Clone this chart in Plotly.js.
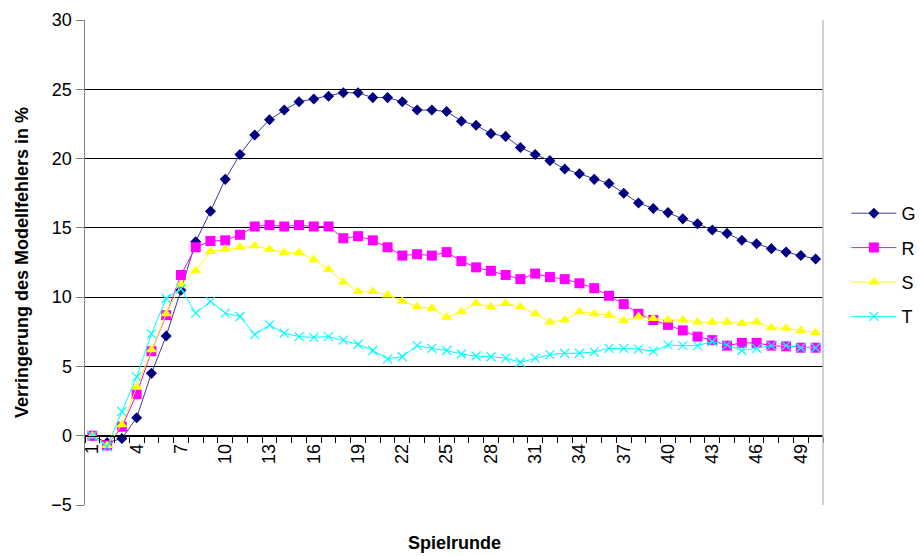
<!DOCTYPE html>
<html>
<head>
<meta charset="utf-8">
<script src="https://cdn.plot.ly/plotly-3.0.1.min.js"></script>
<style>html,body{margin:0;padding:0;background:#fff;}#chart{width:920px;height:556px;}</style>
</head>
<body>
<div id="chart"></div>
<script>
const rounds = Array.from({length: 50}, (_, i) => i + 1);
const tickRounds = [1,4,7,10,13,16,19,22,25,28,31,34,37,40,43,46,49];

const seriesG = [0,-0.5,-0.2,1.3,4.5,7.2,10.5,14.0,16.2,18.5,20.3,21.7,22.8,23.5,24.1,24.3,24.5,24.75,24.75,24.4,
  24.4,24.1,23.5,23.5,23.4,22.7,22.4,21.8,21.6,20.8,20.3,19.85,19.25,18.9,18.5,18.2,17.5,16.8,16.4,16.1,
  15.65,15.3,14.85,14.6,14.1,13.85,13.5,13.25,13.0,12.75];
const seriesR = [0,-0.7,0.65,3.0,6.1,8.7,11.6,13.6,14.05,14.1,14.5,15.1,15.2,15.1,15.2,15.1,15.1,14.25,14.4,14.1,
  13.6,13.0,13.1,13.0,13.25,12.6,12.15,11.9,11.6,11.3,11.7,11.45,11.3,11.0,10.65,10.1,9.5,8.8,8.35,8.0,
  7.6,7.15,6.9,6.5,6.7,6.7,6.5,6.45,6.35,6.35];
const seriesS = [0,-0.7,0.8,3.5,6.2,8.8,10.9,11.9,13.3,13.45,13.6,13.7,13.45,13.2,13.2,12.7,12.0,11.1,10.4,10.4,
  10.15,9.7,9.3,9.2,8.55,8.95,9.55,9.3,9.55,9.3,8.8,8.2,8.35,8.95,8.8,8.7,8.3,8.6,8.45,8.35,
  8.35,8.2,8.2,8.2,8.1,8.2,7.8,7.75,7.6,7.45];
const seriesT = [0,-0.8,1.75,4.25,7.35,9.9,10.6,8.85,9.7,8.85,8.6,7.3,8.0,7.4,7.15,7.1,7.15,6.9,6.6,6.15,
  5.55,5.7,6.5,6.3,6.15,5.9,5.75,5.7,5.6,5.3,5.6,5.85,5.95,5.95,6.05,6.3,6.3,6.25,6.1,6.55,
  6.5,6.5,6.8,6.55,6.15,6.3,6.5,6.5,6.35,6.35];

const font = 'Liberation Sans, Arial, sans-serif';

const traces = [
  {name:'G', y: seriesG, color:'#000080', line:'#3c3c96', symbol:'diamond', size:8.5},
  {name:'R', y: seriesR, color:'#FF00FF', line:'#FF00FF', symbol:'square', size:10},
  {name:'S', y: seriesS, color:'#FFFF00', line:'#FFFF00', symbol:'triangle-up', size:10},
  {name:'T', y: seriesT, color:'#00FFFF', line:'#00FFFF', symbol:'x-thin-open', size:9}
].map(s => ({
  type:'scatter', mode:'lines+markers', name:s.name, x: rounds, y: s.y,
  legendgroup: s.name,
  line:{color:s.line, width:1},
  marker:{symbol:s.symbol, size:s.size, color:s.color,
          line:{color:s.color, width: s.symbol==='x-thin-open' ? 1.2 : 0}}
}));

const layout = {
  width:920, height:556,
  margin:{l:85, r:97, t:20, b:51, autoexpand:false},
  paper_bgcolor:'#fff', plot_bgcolor:'#fff',
  font:{family:font, size:18, color:'#000'},
  showlegend:true,
  legend:{xref:'container', yref:'container', x:0.92, xanchor:'left', y:(556-265)/556, yanchor:'middle',
          traceorder:'grouped', tracegroupgap:8,
          font:{family:font, size:18, color:'#000'}, bgcolor:'rgba(0,0,0,0)', itemwidth:45},
  xaxis:{
    range:[0.5, 50.5], anchor:'free', position: 5/35,
    tickmode:'array', tickvals: tickRounds, ticktext: tickRounds.map(String),
    tickangle:-90, ticks:'', showgrid:false, zeroline:false,
    showline:true, linecolor:'#000', linewidth:1,
    tickfont:{family:font, size:18, color:'#000'},
    minor:{tick0:0.5, dtick:1, ticks:'outside', ticklen:6, tickcolor:'#000', tickwidth:1, showgrid:false}
  },
  yaxis:{
    range:[-5, 30], dtick:5, tick0:0,
    showgrid:true, gridcolor:'#000', gridwidth:1, zeroline:false,
    showline:true, linecolor:'#808080', linewidth:1.5,
    ticks:'outside', ticklen:8, tickcolor:'#808080',
    tickfont:{family:font, size:18, color:'#000'},
    title:{text:'Verringerung des Modellfehlers in %', standoff:18,
           font:{family:font, size:18, color:'#000', weight:'bold'}}
  },
  shapes:[
    {type:'line', xref:'paper', yref:'paper', x0:1, x1:1, y0:0, y1:1, line:{color:'#c0c0c0', width:1.5}}
  ],
  annotations:[
    {text:'<b>Spielrunde</b>', xref:'paper', yref:'paper', x:0.5, y:0, yshift:-38, yanchor:'middle',
     showarrow:false, font:{family:font, size:18, color:'#000'}}
  ]
};

Plotly.newPlot('chart', traces, layout, {displayModeBar:false, staticPlot:true});
</script>
</body>
</html>
